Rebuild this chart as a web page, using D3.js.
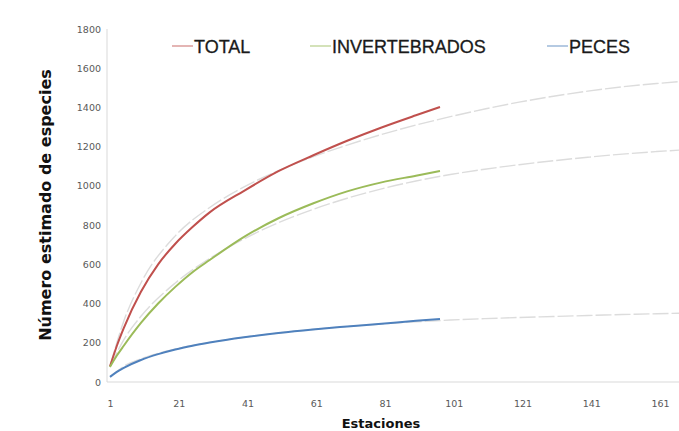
<!DOCTYPE html>
<html>
<head>
<meta charset="utf-8">
<script src="https://cdn.jsdelivr.net/npm/d3@7"></script>
<style>
  html, body { margin: 0; padding: 0; background: #fff; }
  svg { display: block; }
</style>
</head>
<body>
<svg id="chart" width="679" height="431"></svg>
<script>
// Observed species accumulation (solid) per sampling station
const obsStations = [1, 3, 5, 10, 15, 20, 25, 30, 40, 50, 60, 70, 80, 90, 97];
const totalObs    = [80, 185, 275, 460, 600, 705, 790, 865, 975, 1075, 1155, 1230, 1298, 1360, 1402];
const invertObs   = [77, 135, 185, 301, 400, 485, 560, 622, 740, 835, 910, 972, 1018, 1052, 1076];
const pecesObs    = [26, 52, 72, 112, 142, 166, 185, 201, 228, 250, 268, 283, 297, 312, 321];

// Estimated / extrapolated curves (faint dashed)
const estStations = [1, 5, 10, 20, 30, 40, 50, 60, 70, 80, 90, 100, 110, 120, 130, 140, 150, 160, 167];
const totalEst    = [80, 310, 505, 745, 890, 995, 1078, 1148, 1208, 1262, 1310, 1353, 1392, 1427, 1457, 1483, 1505, 1522, 1532];
const invertEst   = [77, 215, 335, 505, 630, 730, 812, 880, 937, 985, 1025, 1058, 1085, 1108, 1128, 1146, 1162, 1175, 1183];
const pecesEst    = [26, 80, 118, 168, 202, 228, 250, 268, 283, 296, 307, 316, 323, 329, 334, 339, 344, 348, 351];

const seriesNames  = ["TOTAL", "INVERTEBRADOS", "PECES"];
const seriesColors = ["#c0504d", "#9bbb59", "#4f81bd"];
const yTicks = [0, 200, 400, 600, 800, 1000, 1200, 1400, 1600, 1800];
const xTicks = [1, 21, 41, 61, 81, 101, 121, 141, 161];

const svg = d3.select("#chart");
const W = 679;
const plotLeft = 107, plotTop = 29, plotBottom = 382;

const x = d3.scaleLinear().domain([1, 161]).range([110, 660]);
const y = d3.scaleLinear().domain([0, 1800]).range([plotBottom, plotTop]);

// axis lines
svg.append("line").attr("x1", plotLeft).attr("x2", plotLeft).attr("y1", plotTop).attr("y2", plotBottom)
  .attr("stroke", "#d9d9d9").attr("stroke-width", 1);
svg.append("line").attr("x1", plotLeft).attr("x2", W).attr("y1", plotBottom).attr("y2", plotBottom)
  .attr("stroke", "#d9d9d9").attr("stroke-width", 1);

// y tick labels
const yAxis = d3.axisLeft(y).tickValues(yTicks).tickSize(0).tickPadding(6).tickFormat(d3.format("d"));
const gy = svg.append("g").attr("transform", `translate(${plotLeft},0)`).call(yAxis);
gy.select(".domain").remove();
gy.selectAll("text").attr("font-family", "DejaVu Sans").attr("font-size", 9.5).attr("fill", "#595959");

// x tick labels
const xAxis = d3.axisBottom(x).tickValues(xTicks).tickSize(0).tickPadding(18).tickFormat(d3.format("d"));
const gx = svg.append("g").attr("transform", `translate(0,${plotBottom})`).call(xAxis);
gx.select(".domain").remove();
gx.selectAll("text").attr("font-family", "DejaVu Sans").attr("font-size", 9.5).attr("fill", "#595959");

// axis titles
svg.append("text").attr("x", 381).attr("y", 428).attr("text-anchor", "middle")
  .attr("font-family", "DejaVu Sans").attr("font-weight", "bold").attr("font-size", 13)
  .attr("fill", "#111").text("Estaciones");
svg.append("text").attr("transform", "translate(51,205) rotate(-90)").attr("text-anchor", "middle")
  .attr("font-family", "DejaVu Sans").attr("font-weight", "bold").attr("font-size", 16)
  .attr("fill", "#111").text("Número estimado de especies");

const line = d3.line().x(d => x(d[0])).y(d => y(d[1])).curve(d3.curveMonotoneX);

const plot = svg.append("g");
const estSets = [totalEst, invertEst, pecesEst];
const obsSets = [totalObs, invertObs, pecesObs];

// extrapolated curves first
estSets.forEach(vals => {
  plot.append("path").datum(estStations.map((s, i) => [s, vals[i]]))
    .attr("d", line).attr("fill", "none").attr("stroke", "#dcdcdc")
    .attr("stroke-width", 1.4).attr("stroke-dasharray", "16,3");
});

// observed curves
obsSets.forEach((vals, k) => {
  plot.append("path").datum(obsStations.map((s, i) => [s, vals[i]]))
    .attr("d", line).attr("fill", "none").attr("stroke", seriesColors[k])
    .attr("stroke-width", 2);
});

// legend
const legendX = [172, 310, 547];
seriesNames.forEach((name, k) => {
  const g = svg.append("g").attr("transform", `translate(${legendX[k]},0)`);
  g.append("line").attr("x1", 0).attr("x2", 21).attr("y1", 46).attr("y2", 46)
    .attr("stroke", seriesColors[k]).attr("stroke-width", 1.2).attr("opacity", 0.7);
  g.append("text").attr("x", 22).attr("y", 53)
    .attr("font-family", "Liberation Sans, Arial, sans-serif")
    .attr("font-size", 18).attr("fill", "#1a1a1a")
    .attr("stroke", "#1a1a1a").attr("stroke-width", 0.3)
    .text(name);
});
</script>
</body>
</html>
